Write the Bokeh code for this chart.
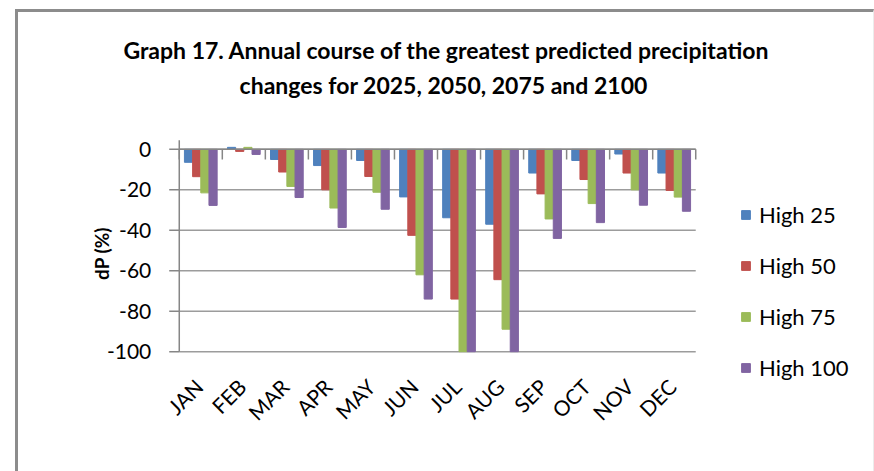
import math
from bokeh.plotting import figure
from bokeh.models import (FactorRange, Range1d, Label, Legend, LegendItem, ColumnDataSource)
from bokeh.core.properties import value
from bokeh.transform import dodge
from bokeh.embed import file_html
from bokeh.resources import INLINE

months = ["JAN", "FEB", "MAR", "APR", "MAY", "JUN", "JUL", "AUG", "SEP", "OCT", "NOV", "DEC"]
high25 = [-6.4, 1.0, -5.0, -8.0, -5.5, -23.5, -33.8, -37.0, -11.7, -5.5, -2.3, -11.7]
high50 = [-13.5, -1.0, -11.2, -20.0, -13.4, -42.5, -74.0, -64.4, -22.0, -14.9, -11.7, -20.3]
high75 = [-21.5, 1.0, -18.3, -29.0, -21.2, -62.0, -100.0, -88.9, -34.4, -26.8, -20.0, -23.6]
high100 = [-27.7, -2.5, -23.8, -38.6, -29.6, -74.0, -100.0, -100.0, -44.0, -36.2, -27.6, -30.6]
series_names = ["High 25", "High 50", "High 75", "High 100"]
colors = ["#4F81BD", "#C0504D", "#9BBB59", "#8064A2"]
y_ticks = [-100, -80, -60, -40, -20, 0]
y_tick_labels = ["-100", "-80", "-60", "-40", "-20", "0"]
title_line1 = "Graph 17. Annual course of the greatest predicted precipitation"
title_line2 = "changes for  2025, 2050, 2075 and 2100"
y_title = "dP (%)"

FONT = "Lato"
GREY = "#868686"
GRID = "#9c9c9c"
BLACK = "#000000"

src = ColumnDataSource(dict(month=months, h25=high25, h50=high50, h75=high75, h100=high100))
n = len(months)
ysrc = ColumnDataSource(dict(y=y_ticks, label=y_tick_labels,
                             first=[months[0]] * len(y_ticks), last=[months[-1]] * len(y_ticks)))

# frame covers the canvas; the category block sits inside via padding
pad = 160 / (514 / n)
p = figure(width=859, height=462,
           x_range=FactorRange(factors=months, range_padding=pad, range_padding_units="absolute"),
           y_range=Range1d(-160.7, 67.65), output_backend="svg", toolbar_location=None,
           min_border_left=0, min_border_right=21, min_border_top=0, min_border_bottom=0,
           x_axis_location=None, y_axis_location=None)
p.margin = (9, 0, 0, 15)
p.outline_line_color = None
p.grid.visible = False
p.styles = {"border-top": "3px solid #8c8c8c", "border-left": "3px solid #8c8c8c",
            "border-right": "1px solid #ececec"}

# horizontal gridlines
p.segment(x0=dodge("first", -0.5, range=p.x_range), x1=dodge("last", 0.5, range=p.x_range),
          y0="y", y1="y", source=ysrc, line_color=GRID, line_width=1.5)

offsets = [-0.285, -0.095, 0.095, 0.285]
items = []
for col, off, c, name in zip(["h25", "h50", "h75", "h100"], offsets, colors, series_names):
    r = p.vbar(x=dodge("month", off, range=p.x_range), top=col, bottom=0, width=0.19,
               source=src, fill_color=c, line_color=c)
    items.append(LegendItem(label=name, renderers=[r]))

# category axis line at y = 0 with boundary ticks
p.segment(x0=dodge("first", -0.5, range=p.x_range), x1=dodge("last", 0.5, range=p.x_range),
          y0=0, y1=0, source=ColumnDataSource(dict(first=[months[0]], last=[months[-1]])),
          line_color=GREY, line_width=1.5)
p.segment(x0=dodge("month", -0.5, range=p.x_range), x1=dodge("month", -0.5, range=p.x_range),
          y0=0, y1=-5, source=src, line_color=GREY, line_width=1.5)
p.segment(x0=dodge("month", 0.5, range=p.x_range), x1=dodge("month", 0.5, range=p.x_range),
          y0=0, y1=-5, source=ColumnDataSource(dict(month=months[-1:])), line_color=GREY, line_width=1.5)

# value axis: line, ticks, labels
p.segment(x0=dodge("first", -0.5, range=p.x_range), x1=dodge("first", -0.5, range=p.x_range),
          y0=-100, y1=4.5, source=ColumnDataSource(dict(first=[months[0]])),
          line_color=GREY, line_width=1.5)
p.segment(x0=dodge("first", -0.5 - 10 / (514 / n), range=p.x_range),
          x1=dodge("first", -0.5, range=p.x_range),
          y0="y", y1="y", source=ysrc, line_color=GREY, line_width=1.5)
p.text(x=dodge("first", -0.5, range=p.x_range), y="y", text="label", source=ysrc,
       x_offset=-28, text_align="right", text_baseline="middle",
       text_font=value(FONT), text_font_size="21px", text_color=BLACK)

# month labels
p.text(x="month", y=-100, text="month", source=src, angle=math.pi / 4,
       x_offset=-2, y_offset=31, text_align="right", text_baseline="middle",
       text_font=value(FONT), text_font_size="21px", text_color=BLACK)

legend = Legend(items=items, location=(722, 93), glyph_width=11, glyph_height=11,
                label_standoff=8, spacing=24, padding=0, margin=0,
                label_text_font=FONT, label_text_font_size="22px", label_text_color=BLACK,
                border_line_color=None, background_fill_alpha=0)
p.add_layout(legend, "center")

t1 = Label(x=428, y=425, x_units="screen", y_units="screen", text=title_line1,
           text_font=FONT, text_font_style="bold", text_font_size="23px", text_color=BLACK,
           text_align="center", text_baseline="middle")
t2 = Label(x=428, y=390, x_units="screen", y_units="screen", text=title_line2,
           text_font=FONT, text_font_style="bold", text_font_size="23px", text_color=BLACK,
           text_align="center", text_baseline="middle")
yl = Label(x=83, y=221, x_units="screen", y_units="screen", text=y_title, angle=math.pi / 2,
           text_font=FONT, text_font_style="bold", text_font_size="19px", text_color=BLACK,
           text_align="center", text_baseline="middle")
for l in (t1, t2, yl):
    p.add_layout(l)

open("out.html", "w").write(file_html(p, INLINE))
